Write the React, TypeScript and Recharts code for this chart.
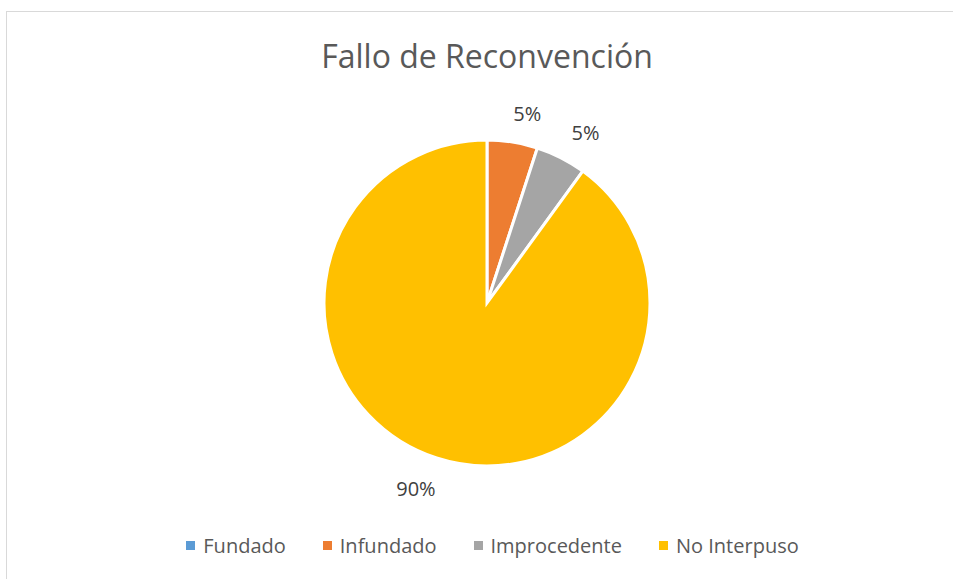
import React from 'react';
import { PieChart, Pie, Cell, Legend } from 'recharts';

const categories = ['Fundado', 'Infundado', 'Improcedente', 'No Interpuso'];
const values = [0, 5, 5, 90];
const colors = ['#5B9BD5', '#ED7D31', '#A5A5A5', '#FFC000'];

const chartData = categories.map((name, i) => ({ name, value: values[i] }));
const total = values.reduce((a, b) => a + b, 0);

const FONT = "'Open Sans', Lato, sans-serif";
const RAD = Math.PI / 180;

// outside-end labels: push the text box just clear of the rim
const renderLabel = (props: any) => {
  const { cx, cy, midAngle, outerRadius, value } = props;
  if (!value) return null;
  const text = `${Math.round((value / total) * 100)}%`;
  const a = (midAngle - 3) * RAD;
  const halfW = text.length * 7.5;
  const halfH = 12;
  const ext = Math.abs(halfW * Math.cos(a)) + Math.abs(halfH * Math.sin(a));
  const r = outerRadius + 16 + ext;
  const x = cx + r * Math.cos(-a);
  const y = cy + r * Math.sin(-a);
  return (
    <text
      x={x}
      y={y}
      fill="#404040"
      fontSize={20}
      fontFamily={FONT}
      textAnchor="middle"
      dominantBaseline="central"
    >
      {text}
    </text>
  );
};

const renderLegend = () => (
  <div style={{ display: 'flex', justifyContent: 'center', gap: 37 }}>
    {categories.map((name, i) => (
      <div key={name} style={{ display: 'flex', alignItems: 'center' }}>
        <span style={{ width: 9, height: 9, background: colors[i], marginRight: 8, display: 'inline-block' }} />
        <span style={{ fontSize: 20, color: '#595959', fontFamily: FONT }}>{name}</span>
      </div>
    ))}
  </div>
);

export default function App() {
  return (
    <div style={{ position: 'absolute', left: 0, top: 0, width: 953, height: 579, overflow: 'hidden', background: '#fff' }}>
      <div
        style={{
          position: 'absolute',
          left: 6,
          top: 11,
          width: 1000,
          height: 700,
          border: '1px solid #d9d9d9',
        }}
      />
      <div
        style={{
          position: 'absolute',
          left: 0,
          top: 34,
          width: 974,
          textAlign: 'center',
          fontSize: 32,
          color: '#595959',
          fontFamily: FONT,
          lineHeight: '44px',
        }}
      >
        Fallo de Reconvención
      </div>
      <div style={{ position: 'absolute', left: 0, top: 0 }}>
        <PieChart width={953} height={579} margin={{ top: 0, right: 0, bottom: 0, left: 0 }}>
          <Pie
            data={chartData}
            dataKey="value"
            nameKey="name"
            cx={487}
            cy={303}
            outerRadius={163}
            startAngle={90}
            endAngle={-270}
            stroke="#ffffff"
            strokeWidth={3}
            label={renderLabel}
            labelLine={false}
            isAnimationActive={false}
          >
            {chartData.map((d, i) => (
              <Cell key={d.name} fill={colors[i]} />
            ))}
          </Pie>
          <Legend
            content={renderLegend}
            wrapperStyle={{ position: 'absolute', left: 0, top: 532, width: 985 }}
          />
        </PieChart>
      </div>
    </div>
  );
}
